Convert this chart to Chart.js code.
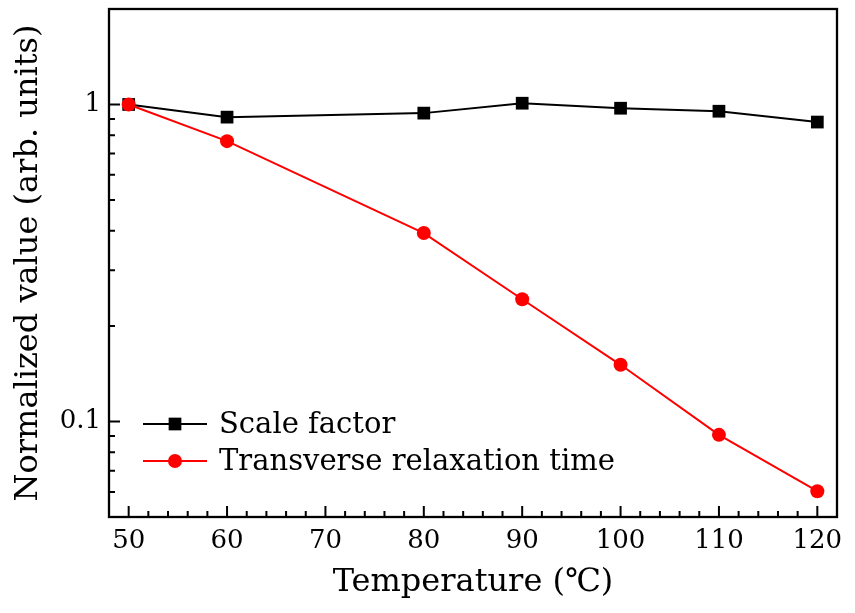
<!DOCTYPE html>
<html>
<head>
<meta charset="utf-8">
<script src="https://cdn.jsdelivr.net/npm/chart.js@4/dist/chart.umd.min.js"></script>
<style>
  html, body { margin: 0; padding: 0; background: #fff; }
  #wrap { width: 855px; height: 613px; }
</style>
</head>
<body>
<div id="wrap"><canvas id="grafico"></canvas></div>
<script>
const temperaturas = [50, 60, 80, 90, 100, 110, 120];
const fatorEscala = [1.0, 0.912, 0.939, 1.009, 0.973, 0.952, 0.880];
const tempoRelaxacao = [1.0, 0.766, 0.393, 0.243, 0.151, 0.0908, 0.0603];
const rotulosX = [50, 60, 70, 80, 90, 100, 110, 120];
const rotulosY = [0.1, 1];
const menoresX = [52, 54, 56, 58, 62, 64, 66, 68, 72, 74, 76, 78, 82, 84, 86, 88, 92, 94, 96, 98, 102, 104, 106, 108, 112, 114, 116, 118];
const menoresY = [0.06, 0.07, 0.08, 0.09, 0.2, 0.3, 0.4, 0.5, 0.6, 0.7, 0.8, 0.9];
const nomesSeries = ['Scale factor', 'Transverse relaxation time'];

const fonte = "'DejaVu Serif', serif";

function pontos(valores){
  return temperaturas.map((t, i) => ({ x: t, y: valores[i] }));
}

// moldura, ticks para dentro e legenda dentro do grafico
const moldura = {
  id: 'moldura',
  afterDraw(chart){
    const ctx = chart.ctx;
    const area = chart.chartArea;
    const sx = chart.scales.x;
    const sy = chart.scales.y;
    ctx.save();
    ctx.strokeStyle = '#000';
    ctx.lineWidth = 2;
    ctx.beginPath();
    rotulosX.forEach(v => {
      const px = sx.getPixelForValue(v);
      ctx.moveTo(px, area.bottom); ctx.lineTo(px, area.bottom - 11);
    });
    menoresX.forEach(v => {
      const px = sx.getPixelForValue(v);
      ctx.moveTo(px, area.bottom); ctx.lineTo(px, area.bottom - 6);
    });
    rotulosY.forEach(v => {
      const py = sy.getPixelForValue(v);
      ctx.moveTo(area.left, py); ctx.lineTo(area.left + 11, py);
    });
    menoresY.forEach(v => {
      const py = sy.getPixelForValue(v);
      ctx.moveTo(area.left, py); ctx.lineTo(area.left + 6, py);
    });
    ctx.stroke();
    ctx.lineWidth = 2.3;
    ctx.strokeRect(area.left, area.top, area.right - area.left, area.bottom - area.top);

    // legenda
    const estilos = [
      { cor: '#000', forma: 'rect', raio: 9 },
      { cor: '#ff0000', forma: 'circle', raio: 7 }
    ];
    ctx.font = '29px ' + fonte;
    ctx.textBaseline = 'middle';
    nomesSeries.forEach((nome, i) => {
      const y = 424 + i * 37;
      ctx.strokeStyle = estilos[i].cor;
      ctx.lineWidth = 2;
      ctx.beginPath();
      ctx.moveTo(143, y); ctx.lineTo(207, y);
      ctx.stroke();
      ctx.fillStyle = estilos[i].cor;
      Chart.helpers.drawPoint(ctx, { pointStyle: estilos[i].forma, radius: estilos[i].raio, borderWidth: 0 }, 175, y);
      ctx.fillStyle = '#000';
      ctx.fillText(nome, 219, y + 1);
    });
    ctx.restore();
  }
};

new Chart(document.getElementById('grafico'), {
  type: 'line',
  data: {
    datasets: [{
      label: nomesSeries[0],
      data: pontos(fatorEscala),
      borderColor: '#000',
      backgroundColor: '#000',
      borderWidth: 2,
      pointStyle: 'rect',
      pointRadius: 9,
      pointBorderWidth: 0,
      order: 1
    }, {
      label: nomesSeries[1],
      data: pontos(tempoRelaxacao),
      borderColor: '#ff0000',
      backgroundColor: '#ff0000',
      borderWidth: 2,
      pointStyle: 'circle',
      pointRadius: 7,
      pointBorderWidth: 0,
      order: 0
    }]
  },
  options: {
    responsive: true,
    maintainAspectRatio: false,
    animation: false,
    layout: { padding: { top: 8, right: 18, left: 0, bottom: 0 } },
    plugins: {
      legend: { display: false },
      tooltip: { enabled: false }
    },
    scales: {
      x: {
        type: 'linear',
        min: 48,
        max: 122,
        grid: { display: false, drawTicks: false },
        border: { display: false },
        afterBuildTicks: (eixo) => { eixo.ticks = rotulosX.map(v => ({ value: v })); },
        afterFit: (eixo) => {
          eixo.height = 96;
          eixo.paddingLeft = 0;
          eixo.paddingRight = 0;
        },
        ticks: {
          color: '#000',
          padding: 9,
          maxRotation: 0,
          font: { family: fonte, size: 26 }
        },
        title: {
          display: true,
          text: 'Temperature (℃)',
          color: '#000',
          padding: { top: 0, bottom: 11 },
          font: { family: fonte, size: 32 }
        }
      },
      y: {
        type: 'logarithmic',
        min: 0.05,
        max: 2,
        grid: { display: false, drawTicks: false },
        border: { display: false },
        afterBuildTicks: (eixo) => { eixo.ticks = rotulosY.map(v => ({ value: v })); },
        afterFit: (eixo) => {
          eixo.width = 109;
          eixo.paddingTop = 0;
          eixo.paddingBottom = 0;
        },
        ticks: {
          color: '#000',
          padding: 8,
          font: { family: fonte, size: 26 },
          callback: (v) => String(v)
        },
        title: {
          display: true,
          text: 'Normalized value (arb. units)',
          color: '#000',
          padding: { top: 9, bottom: 0 },
          font: { family: fonte, size: 32 }
        }
      }
    }
  },
  plugins: [moldura]
});
</script>
</body>
</html>
